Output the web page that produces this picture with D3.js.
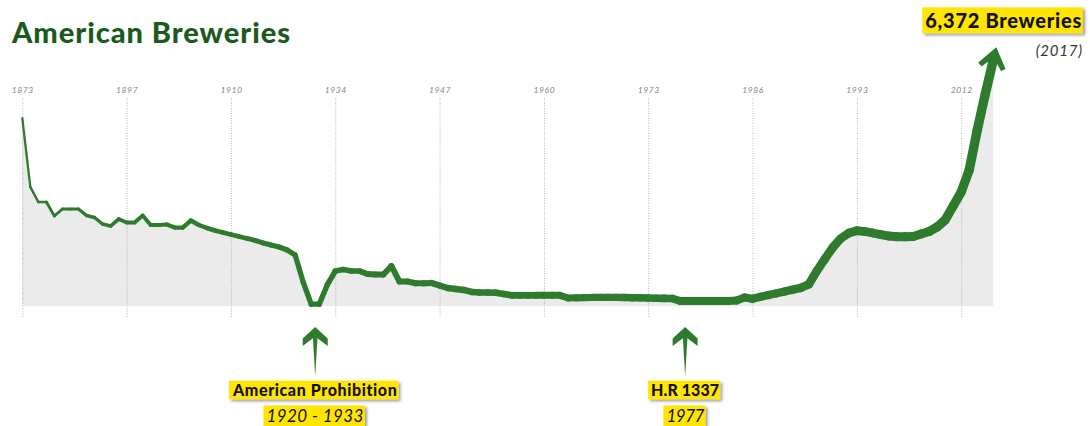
<!DOCTYPE html>
<html>
<head>
<meta charset="utf-8">
<script src="https://cdn.jsdelivr.net/npm/d3@7"></script>
<style>
  html, body { margin: 0; padding: 0; background: #ffffff; }
  svg { display: block; }
</style>
</head>
<body>
<svg id="chart" width="1090" height="426"></svg>
<script>
// ---- data (brewery counts, one value per plotted step) ----
const values = [
  4131, 2615, 2286, 2286, 1978, 2132, 2132, 2132, 1989, 1945,
  1802, 1758, 1912, 1835, 1835, 1989, 1780, 1780, 1791, 1725,
  1725, 1879, 1780, 1714, 1659, 1615, 1571, 1527, 1484, 1440,
  1385, 1341, 1297, 1231, 1121, 527, 40, 40, 462, 769,
  802, 769, 769, 703, 692, 692, 879, 538, 538, 499,
  499, 505, 451, 396, 374, 352, 308, 297, 297, 292,
  264, 235, 235, 235, 235, 235, 235, 235, 176, 180,
  185, 187, 189, 191, 189, 187, 182, 180, 176, 171,
  169, 165, 110, 110, 110, 110, 110, 110, 110, 121,
  187, 160, 202, 242, 279, 319, 358, 396, 473, 769,
  1033, 1286, 1484, 1604, 1655, 1637, 1604, 1571, 1538, 1523,
  1523, 1527, 1582, 1637, 1736, 1890, 2198, 2505, 2989, 3868,
  4659, 5407
];
const tickLabels = ["1873", "1897", "1910", "1934", "1947", "1960", "1973", "1986", "1993", "2012"];
const tickEvery = 13;
const titleText = "American Breweries";
const totalText = "6,372 Breweries";
const totalYear = "(2017)";
const notes = [
  { at: 36.5, title: "American Prohibition", sub: "1920 - 1933" },
  { at: 82.6, title: "H.R 1337", sub: "1977" }
];

// ---- drawing ----
const svg = d3.select("#chart");
const green = "#2e7b2e";
const yellow = "#ffe500";
const FONT = "Lato, 'Open Sans', sans-serif";

const defs = svg.append("defs");
const f = defs.append("filter").attr("id", "shadow")
  .attr("x", "-10%").attr("y", "-30%").attr("width", "130%").attr("height", "180%");
f.append("feDropShadow").attr("dx", 2).attr("dy", 2).attr("stdDeviation", 1.4)
  .attr("flood-color", "#000").attr("flood-opacity", 0.4);

const x = d3.scaleLinear().domain([0, values.length - 1]).range([22.3, 993.3]);
const y = d3.scaleLinear().domain([0, 6000]).range([306, 33]);

function fitSpacing(t, target) {
  const s = t.text();
  const w = t.node().getComputedTextLength();
  t.attr("letter-spacing", (target - w) / Math.max(1, s.length - 1));
}

// title
const title = svg.append("text")
  .attr("x", 12).attr("y", 43)
  .attr("font-family", FONT)
  .attr("font-weight", 900)
  .attr("font-size", 29)
  .attr("fill", "#1b5a1d")
  .text(titleText);
fitSpacing(title, 278);

// area
svg.append("path")
  .datum(values)
  .attr("fill", "#ebebeb")
  .attr("d", d3.area().x((d, i) => x(i)).y0(y(0)).y1(d => y(d)));

// grid + tick labels
const tickIdx = tickLabels.map((d, i) => i * tickEvery);
const axis = d3.axisTop(x)
  .tickValues(tickIdx)
  .tickFormat((d, i) => tickLabels[i])
  .tickSize(-220)
  .tickPadding(5);
const ag = svg.append("g").attr("transform", "translate(0,98)").call(axis);
ag.select(".domain").remove();
ag.selectAll(".tick line")
  .attr("stroke", "#b5b5b5").attr("stroke-width", 1).attr("stroke-dasharray", "1,1.5");
ag.selectAll(".tick text")
  .attr("fill", "#858585")
  .attr("font-family", FONT)
  .attr("font-style", "italic")
  .attr("font-size", 8.5)
  .attr("letter-spacing", 0.6);

// line with increasing thickness
const segs = d3.range(values.length - 1).map(i => [i, i + 1]);
const n = values.length - 1;
svg.append("g").selectAll("line").data(segs).join("line")
  .attr("x1", d => x(d[0])).attr("y1", d => y(values[d[0]]))
  .attr("x2", d => x(d[1])).attr("y2", d => y(values[d[1]]))
  .attr("stroke", green)
  .attr("stroke-linecap", "round")
  .attr("stroke-width", d => 2.3 + 7.2 * Math.pow(d[0] / n, 0.7));

// arrow head at end
{
  const i1 = n, i0 = n - 1;
  const px = x(i1), py = y(values[i1]);
  const dx = px - x(i0), dy = py - y(values[i0]);
  const len = Math.hypot(dx, dy);
  const ux = dx / len, uy = dy / len;
  const wx = -uy, wy = ux;
  const pt = (u, w) => [px + ux * u + wx * w, py + uy * u + wy * w];
  const head = [pt(13, 0), pt(-6, 14), pt(-9, 10), pt(-1, 3), pt(-1, -3), pt(-9, -10), pt(-6, -14)];
  svg.append("polygon").attr("points", head.map(p => p.join(",")).join(" ")).attr("fill", green);
}

// label helper
function label(text, cx, top, h, size, weight, style, target, anchor) {
  const g = svg.append("g");
  const rect = g.append("rect").attr("fill", yellow).attr("filter", "url(#shadow)");
  const t = g.append("text")
    .attr("font-family", FONT)
    .attr("font-weight", weight).attr("font-style", style)
    .attr("font-size", size).attr("fill", "#111")
    .attr("text-anchor", anchor || "middle")
    .attr("x", cx).attr("y", top + h / 2 + size * 0.36)
    .text(text);
  fitSpacing(t, target);
  const b = t.node().getBBox();
  rect.attr("x", b.x - 3).attr("width", b.width + 4).attr("y", top).attr("height", h);
  return g;
}

// top annotation
label(totalText, 1082, 7.3, 26, 20, 900, "normal", 156, "end");
svg.append("text")
  .attr("x", 1083).attr("y", 56)
  .attr("text-anchor", "end")
  .attr("font-family", FONT)
  .attr("font-style", "italic")
  .attr("font-size", 15)
  .attr("letter-spacing", 0.8)
  .attr("fill", "#333")
  .text(totalYear);

// bottom annotations
const noteTargets = [[164, 97], [68, 38]];
notes.forEach((nt, k) => {
  const cx = x(nt.at);
  const g = svg.append("g").attr("transform", `translate(${cx},0)`);
  g.append("polygon")
    .attr("points", [[0, 327], [12.5, 338.5], [12.5, 346], [0, 336.5], [-12.5, 346], [-12.5, 338.5]].map(p => p.join(",")).join(" "))
    .attr("fill", green);
  g.append("polygon")
    .attr("points", [[-2.4, 336], [2.4, 336], [0, 376]].map(p => p.join(",")).join(" "))
    .attr("fill", green);
  label(nt.title, cx, 380.7, 18.5, 16, 900, "normal", noteTargets[k][0]);
  label(nt.sub, cx, 405.5, 21, 17, 400, "italic", noteTargets[k][1]);
});
</script>
</body>
</html>
